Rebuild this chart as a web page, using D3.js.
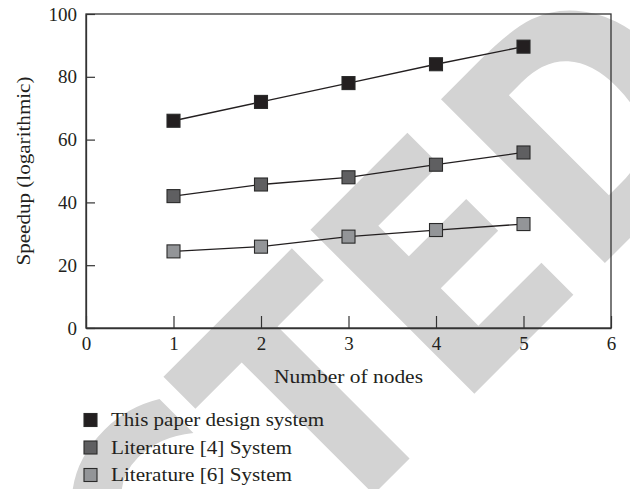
<!DOCTYPE html>
<html>
<head>
<meta charset="utf-8">
<script src="https://cdn.jsdelivr.net/npm/d3@7"></script>
<style>
  body { margin: 0; background: #fff; }
  svg { display: block; }
  text { font-family: "Liberation Serif", "Times New Roman", serif; fill: #231f20; }
</style>
</head>
<body>
<div id="chart"></div>
<script>
// chart values
const nodes = [1, 2, 3, 4, 5];
const seriesNames = ["This paper design system", "Literature [4] System", "Literature [6] System"];
const thisPaper = [66, 72, 78, 84, 89.6];
const lit4 = [42, 45.7, 48, 52, 55.9];
const lit6 = [24.4, 25.9, 29.1, 31.2, 33.1];
const xTicks = [0, 1, 2, 3, 4, 5, 6];
const yTicks = [0, 20, 40, 60, 80, 100];
const fills = ["#231f20", "#5f5f61", "#939598"];

const width = 630, height = 489;
const margin = { top: 14, right: 19, bottom: 161, left: 86 };

const svg = d3.select("#chart").append("svg")
    .attr("width", width)
    .attr("height", height);

// "RETRACTED" stamp behind the plot, anchored on the left edge of the last "E"
const stampFs = 318;
const stamp = svg.append("g")
    .attr("transform", "translate(474,394) rotate(-45) scale(0.85,1)");
const stampText = stamp.append("text")
    .style("font-family", "'DejaVu Sans', sans-serif")
    .style("font-weight", "bold")
    .style("font-size", stampFs + "px")
    .style("fill", "#d3d3d3")
    .text("RETRACTED");
const beforeE = stampText.node().getSubStringLength(0, 7);
stampText.attr("x", -beforeE - 0.09 * stampFs);

const x = d3.scaleLinear().domain([0, 6]).range([margin.left, width - margin.right]);
const y = d3.scaleLinear().domain([0, 100]).range([height - margin.bottom, margin.top]);

// frame
svg.append("rect")
    .attr("x", x(0)).attr("y", y(100))
    .attr("width", x(6) - x(0)).attr("height", y(0) - y(100))
    .attr("fill", "none")
    .attr("stroke", "#333")
    .attr("stroke-width", 1.3);

// axes with inward ticks
const xAxis = svg.append("g")
    .attr("transform", `translate(0,${y(0)})`)
    .call(d3.axisBottom(x).tickValues(xTicks).tickSizeInner(-12).tickSizeOuter(0).tickPadding(8).tickFormat(d3.format("d")));
const yAxis = svg.append("g")
    .attr("transform", `translate(${x(0)},0)`)
    .call(d3.axisLeft(y).tickValues(yTicks).tickSizeInner(-9).tickSizeOuter(0).tickPadding(9).tickFormat(d3.format("d")));

[xAxis, yAxis].forEach(a => {
    a.select(".domain").attr("stroke", "#333").attr("stroke-width", 1.3);
    a.selectAll(".tick line").attr("stroke", "#333").attr("stroke-width", 1.2);
    a.selectAll(".tick text")
        .style("font-family", "'Liberation Serif', serif")
        .style("font-size", "19px")
        .attr("fill", "#231f20");
});
xAxis.selectAll(".tick text").attr("dy", "0.75em");

// axis titles
svg.append("text")
    .attr("x", (x(0) + x(6)) / 2)
    .attr("y", 383)
    .attr("text-anchor", "middle")
    .style("font-size", "19px")
    .attr("textLength", 149)
    .attr("lengthAdjust", "spacingAndGlyphs")
    .text("Number of nodes");

svg.append("text")
    .attr("transform", `translate(30,${(y(0) + y(100)) / 2}) rotate(-90)`)
    .attr("text-anchor", "middle")
    .style("font-size", "19px")
    .attr("textLength", 189)
    .attr("lengthAdjust", "spacingAndGlyphs")
    .text("Speedup (logarithmic)");

// series
const series = [thisPaper, lit4, lit6];
const line = d3.line().x((d, i) => x(nodes[i])).y(d => y(d));
const ms = 13;

series.forEach((vals, si) => {
    svg.append("path")
        .datum(vals)
        .attr("d", line)
        .attr("fill", "none")
        .attr("stroke", "#231f20")
        .attr("stroke-width", 1.3);

    svg.append("g").selectAll("rect")
        .data(vals)
        .join("rect")
        .attr("x", (d, i) => x(nodes[i]) - ms / 2)
        .attr("y", d => y(d) - ms / 2)
        .attr("width", ms)
        .attr("height", ms)
        .attr("fill", fills[si])
        .attr("stroke", "#2a2a2a")
        .attr("stroke-width", 1.1);
});

// legend
const legendW = [213, 181, 181];
const legend = svg.append("g").selectAll("g")
    .data(seriesNames)
    .join("g")
    .attr("transform", (d, i) => `translate(84,${420 + i * 27.5})`);

legend.append("rect")
    .attr("x", 0).attr("y", -6.5)
    .attr("width", 13).attr("height", 13)
    .attr("fill", (d, i) => fills[i])
    .attr("stroke", "#2a2a2a")
    .attr("stroke-width", 1.1);

legend.append("text")
    .attr("x", 27)
    .attr("y", 6)
    .style("font-size", "19px")
    .attr("textLength", (d, i) => legendW[i])
    .attr("lengthAdjust", "spacingAndGlyphs")
    .text(d => d);
</script>
</body>
</html>
